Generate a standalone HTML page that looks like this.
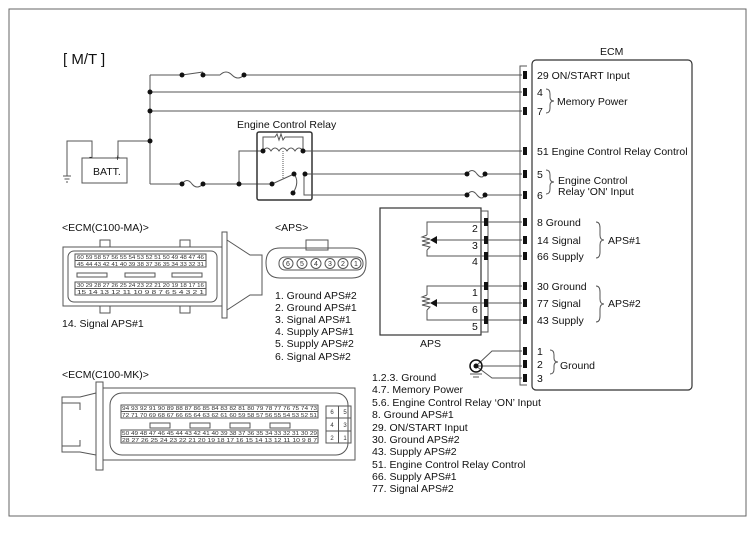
<!DOCTYPE html>
<html><head><meta charset="utf-8"><style>
html,body{margin:0;padding:0;background:#fff;}
svg{display:block;font-family:"Liberation Sans",Arial,sans-serif;}
</style></head><body>
<svg width="755" height="544" viewBox="0 0 755 544" xmlns="http://www.w3.org/2000/svg">
<rect x="9" y="9" width="737" height="507" fill="none" stroke="#666" stroke-width="1"/>
<text x="63" y="64" font-size="15" fill="#111">[ M/T ]</text>

<g stroke="#555" stroke-width="1" fill="none">
<path d="M150 75 V184"/>
<path d="M150 75 H182 M182 75 L203 72 M203 75 H220 M220 75 q6 -6 12 0 t12 0 M244 75 H522"/>
<path d="M150 92 H522 M150 111 H522"/>
<rect x="82" y="158" width="45" height="25"/>
<path d="M118 158 V141 H150 M92 158 V141 H67 V176"/>
<path d="M63 176 h8 M64.5 179 h5 M66 182 h2"/>
<path d="M150 184 H182 M182 184 q5 -7 10 0 q5 6 11 0 M203 184 H272"/>
<path d="M239 184 V151 H263"/>
<rect x="257" y="132" width="55" height="68" rx="2" stroke="#333" stroke-width="1.5"/>
<path d="M263 151 q4 -6 8 0 q4 -6 8 0 q4 -6 8 0 q4 -6 8 0 q4 -6 8 0"/>
<path d="M263 151 V137 H275 l2 -3 l2 6 l2 -6 l2 6 l2 -3 H303 V151"/>
<path d="M283 151 V178" stroke-dasharray="1,1"/>
<path d="M272 184 L294 174 M294 174 q6 8 -1 19"/>
<path d="M303 151 H522"/>
<path d="M305 174 H467 M467 174 q5 -7 10 0 q5 6 8 0 M485 174 H522"/>
<path d="M304 174 V195 H467 M467 195 q5 -7 10 0 q5 6 8 0 M485 195 H522"/>
<rect x="380" y="208" width="101" height="127" stroke="#333" stroke-width="1.2"/>
<path d="M481 211 H488 V332 H481"/>
<path d="M486 222 H522 M486 240 H522 M486 256 H522 M486 286 H522 M486 303 H522 M486 320 H522"/>
<path d="M486 222 H427 V235 M427 250 V256 H486 M427 235 l-5 2 l8 2 l-8 2 l8 2 l-8 2 l8 2 l-3 3 M436 240 H486"/>
<path d="M486 286 H427 V295 M427 310 V320 H486 M427 295 l-5 2 l8 2 l-8 2 l8 2 l-8 2 l8 2 l-3 3 M436 303 H486"/>
<path d="M476 366 L492 351 H522 M476 366 H522 M476 366 L492 378 H522"/>
<path d="M470 374 h12 M473 377 h6"/>
<path d="M527 66 H520 V385 H527"/>
<rect x="532" y="60" width="160" height="330" rx="4" stroke="#333" stroke-width="1.2"/>
<path d="M546 89 q4 0 4 5 v3 q0 4 4 4 q-4 0 -4 4 v3 q0 5 -4 5"/>
<path d="M546 170 q4 0 4 5 v3 q0 4 4 4 q-4 0 -4 4 v3 q0 5 -4 5"/>
<path d="M596 222 q4 0 4 6 v7 q0 5 4 5 q-4 0 -4 5 v7 q0 6 -4 6"/>
<path d="M596 286 q4 0 4 6 v7 q0 5 4 5 q-4 0 -4 5 v7 q0 6 -4 6"/>
<path d="M550 350 q4 0 4 5 v3 q0 4 4 4 q-4 0 -4 4 v3 q0 5 -4 5"/>
</g>
<g fill="#111">
<circle cx="150" cy="92" r="2.5"/><circle cx="150" cy="111" r="2.5"/><circle cx="150" cy="141" r="2.5"/>
<circle cx="182" cy="75" r="2.5"/><circle cx="203" cy="75" r="2.5"/><circle cx="244" cy="75" r="2.5"/>
<circle cx="182" cy="184" r="2.5"/><circle cx="203" cy="184" r="2.5"/><circle cx="239" cy="184" r="2.5"/>
<circle cx="263" cy="151" r="2.5"/><circle cx="303" cy="151" r="2.5"/>
<circle cx="272" cy="184" r="2.5"/><circle cx="294" cy="174" r="2.5"/><circle cx="305" cy="174" r="2.5"/><circle cx="293" cy="193" r="2.5"/>
<circle cx="467" cy="174" r="2.5"/><circle cx="485" cy="174" r="2.5"/><circle cx="467" cy="195" r="2.5"/><circle cx="485" cy="195" r="2.5"/>
<path d="M430 240 l7 -4 v8z M430 303 l7 -4 v8z"/>
<circle cx="476" cy="366" r="6" fill="none" stroke="#111" stroke-width="1.5"/><circle cx="476" cy="366" r="2.5"/>
</g>
<g fill="#111">
<rect x="523" y="71" width="4" height="8"/><rect x="523" y="88" width="4" height="8"/><rect x="523" y="107" width="4" height="8"/>
<rect x="523" y="147" width="4" height="8"/><rect x="523" y="170" width="4" height="8"/><rect x="523" y="191" width="4" height="8"/>
<rect x="523" y="218" width="4" height="8"/><rect x="523" y="236" width="4" height="8"/><rect x="523" y="252" width="4" height="8"/>
<rect x="523" y="282" width="4" height="8"/><rect x="523" y="299" width="4" height="8"/><rect x="523" y="316" width="4" height="8"/>
<rect x="523" y="347" width="4" height="8"/><rect x="523" y="360" width="4" height="8"/><rect x="523" y="374" width="4" height="8"/>
<rect x="484" y="218" width="4" height="8"/><rect x="484" y="236" width="4" height="8"/><rect x="484" y="252" width="4" height="8"/>
<rect x="484" y="282" width="4" height="8"/><rect x="484" y="299" width="4" height="8"/><rect x="484" y="316" width="4" height="8"/>
</g>
<g font-size="10.5" fill="#111">
<text x="93" y="175">BATT.</text>
<text x="89" y="160" font-size="9">-</text><text x="115" y="161" font-size="9">+</text>
<text x="237" y="128">Engine Control Relay</text>
<text x="600" y="55">ECM</text>
<text x="537" y="79">29 ON/START Input</text>
<text x="537" y="96">4</text><text x="537" y="115">7</text>
<text x="557" y="105">Memory Power</text>
<text x="537" y="155">51 Engine Control Relay Control</text>
<text x="537" y="178">5</text><text x="537" y="199">6</text>
<text x="558" y="184">Engine Control</text><text x="558" y="195">Relay 'ON' Input</text>
<text x="537" y="226">8 Ground</text><text x="537" y="244">14 Signal</text><text x="537" y="260">66 Supply</text>
<text x="608" y="244">APS#1</text>
<text x="537" y="290">30 Ground</text><text x="537" y="307">77 Signal</text><text x="537" y="324">43 Supply</text>
<text x="608" y="307">APS#2</text>
<text x="537" y="355">1</text><text x="537" y="368">2</text><text x="537" y="382">3</text>
<text x="560" y="369">Ground</text>
<text x="472" y="232">2</text><text x="472" y="249">3</text><text x="472" y="265">4</text>
<text x="472" y="296">1</text><text x="472" y="313">6</text><text x="472" y="330">5</text>
<text x="420" y="347">APS</text>
<text x="372" y="381">1.2.3. Ground</text>
<text x="372" y="393">4.7. Memory Power</text>
<text x="372" y="406">5.6. Engine Control Relay ‘ON’ Input</text>
<text x="372" y="418">8. Ground APS#1</text>
<text x="372" y="431">29. ON/START Input</text>
<text x="372" y="443">30. Ground APS#2</text>
<text x="372" y="455">43. Supply APS#2</text>
<text x="372" y="468">51. Engine Control Relay Control</text>
<text x="372" y="480">66. Supply APS#1</text>
<text x="372" y="492">77. Signal APS#2</text>
<text x="62" y="231">&lt;ECM(C100-MA)&gt;</text>
<text x="62" y="327">14. Signal APS#1</text>
<text x="275" y="231">&lt;APS&gt;</text>
<text x="275" y="299">1. Ground APS#2</text>
<text x="275" y="311">2. Ground APS#1</text>
<text x="275" y="323">3. Signal APS#1</text>
<text x="275" y="335">4. Supply APS#1</text>
<text x="275" y="347">5. Supply APS#2</text>
<text x="275" y="360">6. Signal APS#2</text>
<text x="62" y="378">&lt;ECM(C100-MK)&gt;</text>
</g>
<g stroke="#555" fill="none" stroke-width="1">
<rect x="63" y="247" width="159" height="59"/>
<rect x="68" y="251" width="149" height="51" rx="6"/>
<rect x="100" y="240" width="10" height="7"/><rect x="180" y="240" width="10" height="7"/>
<rect x="100" y="306" width="10" height="7"/><rect x="180" y="306" width="10" height="7"/>
<rect x="222" y="232" width="5" height="86"/>
<path d="M227 240 L250 255 H262 V295 H250 L227 310"/>
<rect x="75" y="254" width="131" height="13"/><path d="M75 260.5 H206"/>
<rect x="75" y="282" width="131" height="13"/><path d="M75 288.5 H206"/>
<rect x="77" y="273" width="30" height="4"/><rect x="125" y="273" width="30" height="4"/><rect x="172" y="273" width="30" height="4"/>
<path d="M280 248 H352 Q366 248 366 263 Q366 278 352 278 H280 Q266 278 266 263 Q266 248 280 248Z"/>
<rect x="306" y="240" width="22" height="10"/>
<rect x="279" y="257" width="84" height="13" rx="6"/>
<rect x="103" y="388" width="252" height="72"/>
<rect x="110" y="393" width="238" height="62" rx="12"/>
<rect x="96" y="382" width="7" height="88"/>
<path d="M96 393 L80 397 H62 V403 H80 V410 M96 455 L80 452 H62 V446 H80 V440 M62 403 V446"/>
<rect x="121" y="405" width="197" height="13"/><path d="M121 411.5 H318"/>
<rect x="121" y="430" width="197" height="13"/><path d="M121 436.5 H318"/>
<rect x="150" y="423" width="20" height="5"/><rect x="190" y="423" width="20" height="5"/><rect x="230" y="423" width="20" height="5"/><rect x="270" y="423" width="20" height="5"/>
<rect x="326" y="406" width="25" height="37"/><path d="M326 418 H351 M326 431 H351 M338.5 406 V443"/>
</g>
<g font-size="5.5" fill="#333">
<text x="77" y="259" textLength="127" lengthAdjust="spacingAndGlyphs">60 59 58 57 56 55 54 53 52 51 50 49 48 47 46</text>
<text x="77" y="266" textLength="127" lengthAdjust="spacingAndGlyphs">45 44 43 42 41 40 39 38 37 36 35 34 33 32 31</text>
<text x="77" y="287" textLength="127" lengthAdjust="spacingAndGlyphs">30 29 28 27 26 25 24 23 22 21 20 19 18 17 16</text>
<text x="77" y="294" textLength="127" lengthAdjust="spacingAndGlyphs">15 14 13 12 11 10  9  8  7  6  5  4  3  2  1</text>
<text x="122" y="410" textLength="195" lengthAdjust="spacingAndGlyphs">94 93 92 91 90 89 88 87 86 85 84 83 82 81 80 79 78 77 76 75 74 73</text>
<text x="122" y="417" textLength="195" lengthAdjust="spacingAndGlyphs">72 71 70 69 68 67 66 65 64 63 62 61 60 59 58 57 56 55 54 53 52 51</text>
<text x="122" y="435" textLength="195" lengthAdjust="spacingAndGlyphs">50 49 48 47 46 45 44 43 42 41 40 39 38 37 36 35 34 33 32 31 30 29</text>
<text x="122" y="442" textLength="195" lengthAdjust="spacingAndGlyphs">28 27 26 25 24 23 22 21 20 19 18 17 16 15 14 13 12 11 10  9  8  7</text>
</g>
<g font-size="6" fill="#333" text-anchor="middle">
<text x="332" y="414">6</text><text x="345" y="414">5</text>
<text x="332" y="427">4</text><text x="345" y="427">3</text>
<text x="332" y="440">2</text><text x="345" y="440">1</text>
</g>
<g font-size="7" fill="#333" text-anchor="middle">
<circle cx="288" cy="263.5" r="5" fill="none" stroke="#555"/><text x="288" y="266">6</text>
<circle cx="302" cy="263.5" r="5" fill="none" stroke="#555"/><text x="302" y="266">5</text>
<circle cx="316" cy="263.5" r="5" fill="none" stroke="#555"/><text x="316" y="266">4</text>
<circle cx="330" cy="263.5" r="5" fill="none" stroke="#555"/><text x="330" y="266">3</text>
<circle cx="343" cy="263.5" r="5" fill="none" stroke="#555"/><text x="343" y="266">2</text>
<circle cx="356" cy="263.5" r="5" fill="none" stroke="#555"/><text x="356" y="266">1</text>
</g>
</svg>
</body></html>
